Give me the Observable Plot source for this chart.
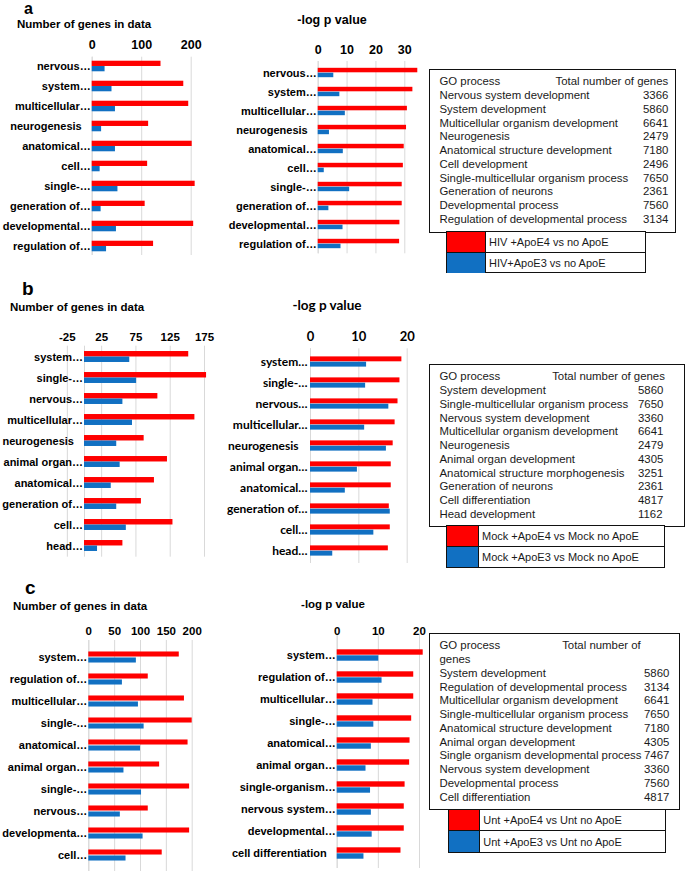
<!DOCTYPE html>
<html><head><meta charset="utf-8">
<script src="https://cdn.jsdelivr.net/npm/d3@7"></script>
<script src="https://cdn.jsdelivr.net/npm/@observablehq/plot@0.6"></script>
<style>
html,body{margin:0;padding:0;background:#fff;}
#fig{position:relative;width:685px;height:871px;overflow:hidden;background:#fff;font-family:"Liberation Sans",Arial,sans-serif;color:#000;}
.abs{position:absolute;white-space:nowrap;}
.box{position:absolute;box-sizing:border-box;border:1.5px solid #111;background:#fff;font-size:11.4px;line-height:13.75px;color:#1a1a1a;}
.box .row{white-space:nowrap;}
.box .lab{display:inline-block;}
.leg{position:absolute;box-sizing:border-box;border:1.5px solid #111;background:#fff;font-size:11px;color:#1a1a1a;}
.leg .lr{display:flex;align-items:stretch;box-sizing:border-box;}
.leg .lr + .lr{border-top:1.5px solid #111;}
.leg .sw{border-right:1.5px solid #111;}
.leg .lt{padding-left:3px;display:flex;align-items:center;}
</style></head>
<body><div id="fig"></div>
<script>
// ---------- data ----------
const titleCount = "Number of genes in data";
const titleLogp = "-log p value";
const headGo = "GO process";
const headTotal = "Total number of genes";

const aCountLabels = ["nervous…","system…","multicellular…","neurogenesis","anatomical…","cell…","single-…","generation of…","developmental…","regulation of…"];
const aLogpLabels = ["nervous…","system…","multicellular…","neurogenesis","anatomical…","cell…","single-…","generation of…","developmental…","regulation of…"];
const aCountE4 = [139,185,195,114,202,112,208,107,205,124];
const aCountE3 = [26,40,47,19,47,16,52,18,49,29];
const aLogpE4 = [34.5,32.8,30.9,30.6,29.8,29.5,29.1,29.1,28.3,28.2];
const aLogpE3 = [5.4,7.5,9.4,3.9,8.7,2.1,10.9,3.7,8.6,7.9];
const aCountTicks = [0,100,200];
const aLogpTicks = [0,10,20,30];
const aGoProcess = ["Nervous system development","System development","Multicellular organism development","Neurogenesis","Anatomical structure development","Cell development","Single-multicellular organism process","Generation of neurons","Developmental process","Regulation of developmental process"];
const aTotalGenes = [3366,5860,6641,2479,7180,2496,7650,2361,7560,3134];
const aLegend = ["HIV +ApoE4 vs no ApoE","HIV+ApoE3 vs no ApoE"];

const bCountLabels = ["system…","single-…","nervous…","multicellular…","neurogenesis","animal organ…","anatomical…","generation of…","cell…","head…"];
const bLogpLabels = ["system…","single-…","nervous…","multicellular…","neurogenesis","animal organ…","anatomical…","generation of…","cell…","head…"];
const bCountE4 = [152,178,107,161,87,121,102,83,129,56];
const bCountE3 = [66,76,56,70,47,52,39,47,61,19];
const bLogpE4 = [18.9,18.5,18.1,17.5,17.1,16.7,16.7,16.3,16.5,16.1];
const bLogpE3 = [11.6,11.4,16.2,11.2,15.7,9.7,7.2,16.5,13.1,4.6];
const bCountTicks = [-25,25,75,125,175];
const bLogpTicks = [0,10,20];
const bGoProcess = ["System development","Single-multicellular organism process","Nervous system development","Multicellular organism development","Neurogenesis","Animal organ development","Anatomical structure morphogenesis","Generation of neurons","Cell differentiation","Head development"];
const bTotalGenes = [5860,7650,3360,6641,2479,4305,3251,2361,4817,1162];
const bLegend = ["Mock +ApoE4 vs Mock no ApoE","Mock +ApoE3 vs Mock no ApoE"];

const cCountLabels = ["system…","regulation of…","multicellular…","single-…","anatomical…","animal organ…","single-…","nervous…","developmenta…","cell…"];
const cLogpLabels = ["system…","regulation of…","multicellular…","single-…","anatomical…","animal organ…","single-organism…","nervous system…","developmental…","cell differentiation"];
const cCountE4 = [175,115,185,200,192,137,195,115,195,142];
const cCountE3 = [92,65,96,107,100,68,102,61,105,72];
const cLogpE4 = [20.9,18.6,18.6,18.1,17.7,17.6,16.5,16.3,16.3,15.5];
const cLogpE3 = [10.1,10.9,8.7,8.9,8.3,7.0,8.1,8.3,8.5,6.5];
const cCountTicks = [0,50,100,150,200];
const cLogpTicks = [0,10,20];
const cGoProcess = ["System development","Regulation of developmental process","Multicellular organism development","Single-multicellular organism process","Anatomical structure development","Animal organ development","Single organism developmental process","Nervous system development","Developmental process","Cell differentiation"];
const cTotalGenes = [5860,3134,6641,7650,7180,4305,7467,3360,7560,4817];
const cLegend = ["Unt +ApoE4 vs Unt no ApoE","Unt +ApoE3 vs Unt no ApoE"];

const panelLetters = ["a","b","c"];

// ---------- style ----------
const RED = "#ff0000";
const BLUE = "#1170c2";
const GRID = "#d9d9d9";
const ARIAL = "Liberation Sans, Arial, sans-serif";
const CALIBRI = "Lato, Liberation Sans, sans-serif";

const fig = document.getElementById("fig");

function addText(txt, x, cy, size, opts = {}) {
  const d = document.createElement("div");
  d.className = "abs";
  d.textContent = txt;
  const lh = opts.lh || Math.round(size * 1.2);
  d.style.left = x + "px";
  d.style.top = (cy - lh / 2) + "px";
  d.style.lineHeight = lh + "px";
  d.style.fontSize = size + "px";
  d.style.fontWeight = opts.weight || "bold";
  d.style.fontFamily = opts.font || ARIAL;
  if (opts.center) { d.style.transform = "translateX(-50%)"; }
  fig.appendChild(d);
}

function chart(o) {
  const idx = d3.range(o.labels.length);
  const bw = (o.yRange[1] - o.yRange[0]) / idx.length;
  const trunc = idx.filter(i => o.labels[i].endsWith("…"));
  const full = idx.filter(i => !o.labels[i].endsWith("…"));
  const textOpts = {fontFamily: o.font, fontWeight: "bold", fontSize: o.labelSize, fill: "#000", textAnchor: "end"};
  const svg = Plot.plot({
    width: o.w, height: o.h,
    marginTop: o.gridTop - o.top, marginBottom: o.top + o.h - o.gridBottom,
    marginLeft: 0, marginRight: 0,
    style: {background: "transparent", overflow: "visible", fontFamily: o.font, color: "#000"},
    x: {domain: o.domain, range: [o.xRange[0] - o.left, o.xRange[1] - o.left], axis: null},
    y: {type: "band", domain: idx, range: [o.yRange[0] - o.top, o.yRange[1] - o.top], padding: 0, axis: null},
    marks: [
      Plot.ruleX(o.ticks.concat([0]), {stroke: GRID, strokeWidth: 1}),
      Plot.barX(idx, {x1: 0, x2: i => o.e4[i], y: i => i, fill: RED, insetTop: bw / 2 - o.bar, insetBottom: bw / 2}),
      Plot.barX(idx, {x1: 0, x2: i => o.e3[i], y: i => i, fill: BLUE, insetTop: bw / 2, insetBottom: bw / 2 - o.bar}),
      Plot.text(trunc, {...textOpts, x: 0, y: i => i, text: i => o.labels[i], dx: o.labelDx}),
      Plot.text(full, {...textOpts, x: 0, y: i => i, text: i => o.labels[i], dx: o.labelDx - 9}),
      Plot.text(o.ticks, {x: d => d, frameAnchor: "top", dy: o.tickY - o.gridTop, text: d => String(d),
        fontFamily: o.font, fontWeight: "bold", fontSize: o.tickSize, fill: "#000", textAnchor: "middle"})
    ]
  });
  svg.style.position = "absolute";
  svg.style.left = o.left + "px";
  svg.style.top = o.top + "px";
  fig.appendChild(svg);
}

function table(o) {
  const box = document.createElement("div");
  box.className = "box";
  box.style.left = o.x0 + "px"; box.style.top = o.y0 + "px";
  box.style.width = (o.x1 - o.x0) + "px"; box.style.height = (o.y1 - o.y0) + "px";
  box.style.paddingTop = "5px"; box.style.paddingLeft = (o.textX - o.x0 - 1.5) + "px";
  const head = document.createElement("div");
  head.style.whiteSpace = "nowrap";
  const g = document.createElement("span");
  g.style.display = "inline-block"; g.style.width = (o.totalX - o.textX) + "px";
  g.textContent = headGo;
  head.appendChild(g);
  if (o.wrapHead) {
    // header too wide for the box: last word goes on its own line
    const k = headTotal.lastIndexOf(" ");
    const t1 = document.createElement("span"); t1.textContent = headTotal.slice(0, k);
    head.appendChild(t1);
    box.appendChild(head);
    const h2 = document.createElement("div"); h2.textContent = headTotal.slice(k + 1);
    box.appendChild(h2);
  } else {
    const t1 = document.createElement("span"); t1.textContent = headTotal;
    head.appendChild(t1);
    box.appendChild(head);
  }
  o.names.forEach((n, i) => {
    const r = document.createElement("div"); r.className = "row";
    const l = document.createElement("span"); l.className = "lab";
    l.style.width = (o.numX - o.textX) + "px"; l.textContent = n;
    const v = document.createElement("span"); v.textContent = String(o.values[i]);
    r.appendChild(l); r.appendChild(v); box.appendChild(r);
  });
  fig.appendChild(box);
  const leg = document.createElement("div");
  leg.className = "leg";
  leg.style.left = o.lx0 + "px"; leg.style.top = (o.y1 - 1.5) + "px";
  leg.style.width = (o.lx1 - o.lx0) + "px"; leg.style.height = (o.ly1 - o.y1 + 1.5) + "px";
  const rh = (o.ly1 - o.y1 - 1.5) / 2;
  [RED, BLUE].forEach((c, i) => {
    const r = document.createElement("div"); r.className = "lr"; r.style.height = (rh + (i ? 1.5 : 0)) + "px";
    const s = document.createElement("div"); s.className = "sw"; s.style.width = o.swW + "px"; s.style.background = c;
    const t = document.createElement("div"); t.className = "lt"; t.textContent = o.legend[i];
    r.appendChild(s); r.appendChild(t); leg.appendChild(r);
  });
  fig.appendChild(leg);
}

// ---------- panel a ----------
addText(panelLetters[0], 24, 9, 16, {lh: 18});
addText(titleCount, 17, 24.5, 11.5, {lh: 13});
addText(titleLogp, 332, 20, 12.5, {center: true});
chart({labels: aCountLabels, e4: aCountE4, e3: aCountE3, ticks: aCountTicks, domain: [0, 200], xRange: [91.7, 190.7],
  left: 0, top: 0, w: 230, h: 275, yRange: [56.3, 256.7], gridTop: 56.7, gridBottom: 255, bar: 5.3,
  font: ARIAL, labelSize: 11, labelDx: -1.5, tickY: 40, tickSize: 12.5});
chart({labels: aLogpLabels, e4: aLogpE4, e3: aLogpE3, ticks: aLogpTicks, domain: [0, 30], xRange: [317.7, 404.3],
  left: 200, top: 0, w: 230, h: 275, yRange: [60.6, 254.7], gridTop: 61, gridBottom: 253.3, bar: 4.9,
  font: ARIAL, labelSize: 11, labelDx: -1.5, tickY: 45, tickSize: 12.5});
table({x0: 429.3, x1: 676, y0: 69.3, y1: 232.7, textX: 440, totalX: 556, numX: 643.5, wrapHead: false,
  names: aGoProcess, values: aTotalGenes, lx0: 446, lx1: 645.7, ly1: 273.3, swW: 38, legend: aLegend});

// ---------- panel b ----------
addText(panelLetters[1], 22, 289, 19, {lh: 16});
addText(titleCount, 10, 307, 11.5);
addText(titleLogp, 327, 305, 13.5, {center: true, font: CALIBRI});
chart({labels: bCountLabels, e4: bCountE4, e3: bCountE3, ticks: bCountTicks, domain: [0, 175], xRange: [84, 204],
  left: 0, top: 275, w: 230, h: 295, yRange: [345.8, 556.2], gridTop: 345.7, gridBottom: 556.7, bar: 5.5,
  font: ARIAL, labelSize: 11, labelDx: -1.5, tickY: 332.7, tickSize: 11.5});
chart({labels: bLogpLabels, e4: bLogpE4, e3: bLogpE3, ticks: bLogpTicks, domain: [0, 20], xRange: [310, 406.7],
  left: 200, top: 275, w: 230, h: 295, yRange: [348.6, 562.4], gridTop: 348.3, gridBottom: 563, bar: 5.3,
  font: CALIBRI, labelSize: 12, labelDx: -3, tickY: 331.7, tickSize: 13});
table({x0: 429.3, x1: 685, y0: 364.3, y1: 526.7, textX: 440, totalX: 552.7, numX: 638.5, wrapHead: false,
  names: bGoProcess, values: bTotalGenes, lx0: 446, lx1: 665, ly1: 568, swW: 31, legend: bLegend});

// ---------- panel c ----------
addText(panelLetters[2], 25, 588, 19, {lh: 16});
addText(titleCount, 13, 605.5, 11.5);
addText(titleLogp, 333, 604, 11.5, {center: true});
chart({labels: cCountLabels, e4: cCountE4, e3: cCountE3, ticks: cCountTicks, domain: [0, 200], xRange: [88.3, 191.7],
  left: 0, top: 565, w: 230, h: 306, yRange: [640.8, 870.4], gridTop: 640, gridBottom: 871, bar: 6,
  font: ARIAL, labelSize: 11, labelDx: -1.5, tickY: 626, tickSize: 11.5});
chart({labels: cLogpLabels, e4: cLogpE4, e3: cLogpE3, ticks: cLogpTicks, domain: [0, 20], xRange: [336.7, 419],
  left: 200, top: 565, w: 230, h: 306, yRange: [641, 867], gridTop: 633.5, gridBottom: 868, bar: 6,
  font: ARIAL, labelSize: 11, labelDx: -1.5, tickY: 626, tickSize: 11.5});
table({x0: 429.3, x1: 680, y0: 633.3, y1: 810, textX: 440, totalX: 562.7, numX: 644.5, wrapHead: true,
  names: cGoProcess, values: cTotalGenes, lx0: 448.3, lx1: 666, ly1: 852.7, swW: 30, legend: cLegend});
</script>
</body></html>
